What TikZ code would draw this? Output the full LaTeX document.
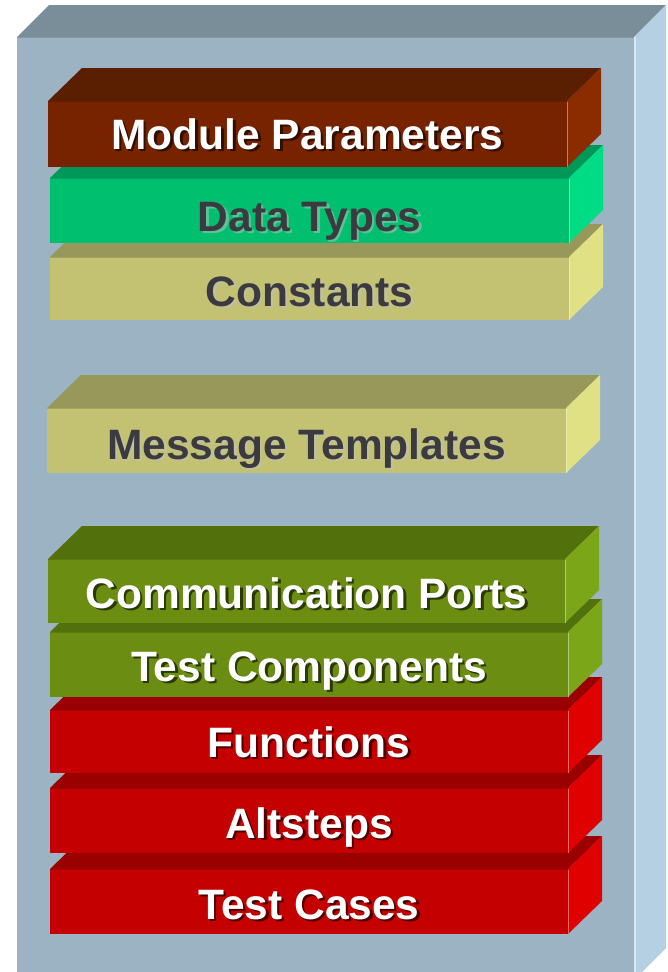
\documentclass[tikz,border=0pt]{standalone}
\usepackage{fontspec}
\setmainfont{Liberation Sans}

% face colours: F = front, T = top, S = right side
\definecolor{boxF}{HTML}{9BB3C2}
\definecolor{boxT}{HTML}{7A8E99}
\definecolor{boxS}{HTML}{B5D0E2}
\definecolor{brnF}{HTML}{772300}
\definecolor{brnT}{HTML}{5A1E00}
\definecolor{brnS}{HTML}{8A2C00}
\definecolor{grnF}{HTML}{00C070}
\definecolor{grnT}{HTML}{009858}
\definecolor{grnS}{HTML}{00DC84}
\definecolor{khkF}{HTML}{C2C272}
\definecolor{khkT}{HTML}{98985A}
\definecolor{khkS}{HTML}{E0E084}
\definecolor{olvF}{HTML}{6B8E12}
\definecolor{olvT}{HTML}{52700C}
\definecolor{olvS}{HTML}{7BA617}
\definecolor{redF}{HTML}{C40000}
\definecolor{redT}{HTML}{9A0000}
\definecolor{redS}{HTML}{E00000}
\definecolor{inkdark}{HTML}{3A3A40}

\tikzset{
  lbl/.style={anchor=base, inner sep=0pt, font=\fontsize{42.5}{48}\selectfont\bfseries},
  whitetxt/.style={lbl, text=white},
  darktxt/.style={lbl, text=inkdark},
}

% drop-shadow colour for each label style, mixed from the face colour
\newcommand\whiteshadeof[1]{\colorlet{lblshade}{#1F!40!black}}
\newcommand\darkshadeof[1]{\colorlet{lblshade}{#1F!50!lightgray}}

% #1 colour prefix, #2 left, #3 front top, #4 front right, #5 bottom,
% #6 text baseline, #7 node name, #8 label, #9 label style (white/dark)
\newcommand\cubeblock[9]{%
  \fill[#1T] (#2,#3) -- (#2+34,#3-33) -- (#4+34,#3-33) -- (#4,#3) -- cycle;
  \fill[#1S] (#4,#3) -- (#4+34,#3-33) -- (#4+34,#5-33) -- (#4,#5) -- cycle;
  \fill[#1F] (#2,#3) rectangle (#4,#5);
  \draw[#1S!60!white, line width=1.2pt] (#4+0.6,#3+1) -- (#4+0.6,#5);
  \draw[#1F!85!black, line width=1pt] (#2,#3+0.5) -- (#4,#3+0.5);
  \csname #9shadeof\endcsname{#1}%
  \node[#9txt] (#7) at ({(#2+#4)/2},#6)
    {\makebox[0pt][l]{\hspace*{2.5pt}\raisebox{-2.5pt}{\textcolor{lblshade}{#8}}}#8};
}

\begin{document}
\begin{tikzpicture}[x=1pt, y=-1pt]
  \useasboundingbox (0,0) rectangle (668,972);
  \clip (0,0) rectangle (668,972);
  \fill[white] (0,0) rectangle (668,972);

  % outer module box
  \fill[boxT] (17,37) -- (49,5) -- (666,5) -- (634,37) -- cycle;
  \fill[boxS] (634,37) -- (666,5) -- (666,948) -- (634,980) -- cycle;
  \fill[boxF] (17,37) rectangle (634,990);
  \draw[boxS!50!white, line width=1.5pt] (635.2,37) -- (635.2,990);
  \draw[boxF!85!black, line width=1pt] (17,37.5) -- (634,37.5);

  % stacked blocks, drawn bottom-up so upper faces overlap
  \cubeblock{red}{50}{869}{568}{934}{919}{testcases}{Test Cases}{white}
  \cubeblock{red}{50}{788}{568}{853}{838}{altsteps}{Altsteps}{white}
  \cubeblock{red}{50}{710}{568}{773}{757}{functions}{Functions}{white}
  \cubeblock{olv}{50}{632}{568}{697}{681}{components}{Test Components}{white}
  \cubeblock{olv}{48}{559}{565}{623}{608}{ports}{Communication Ports}{white}

  \cubeblock{khk}{47}{408}{566}{473}{459}{templates}{Message Templates}{dark}

  \cubeblock{khk}{50}{257}{569}{320}{306}{constants}{Constants}{dark}
  \cubeblock{grn}{50}{178}{569}{243}{231}{datatypes}{Data Types}{dark}
  \cubeblock{brn}{48}{101}{567}{167}{149}{modpar}{Module Parameters}{white}
\end{tikzpicture}
\end{document}
